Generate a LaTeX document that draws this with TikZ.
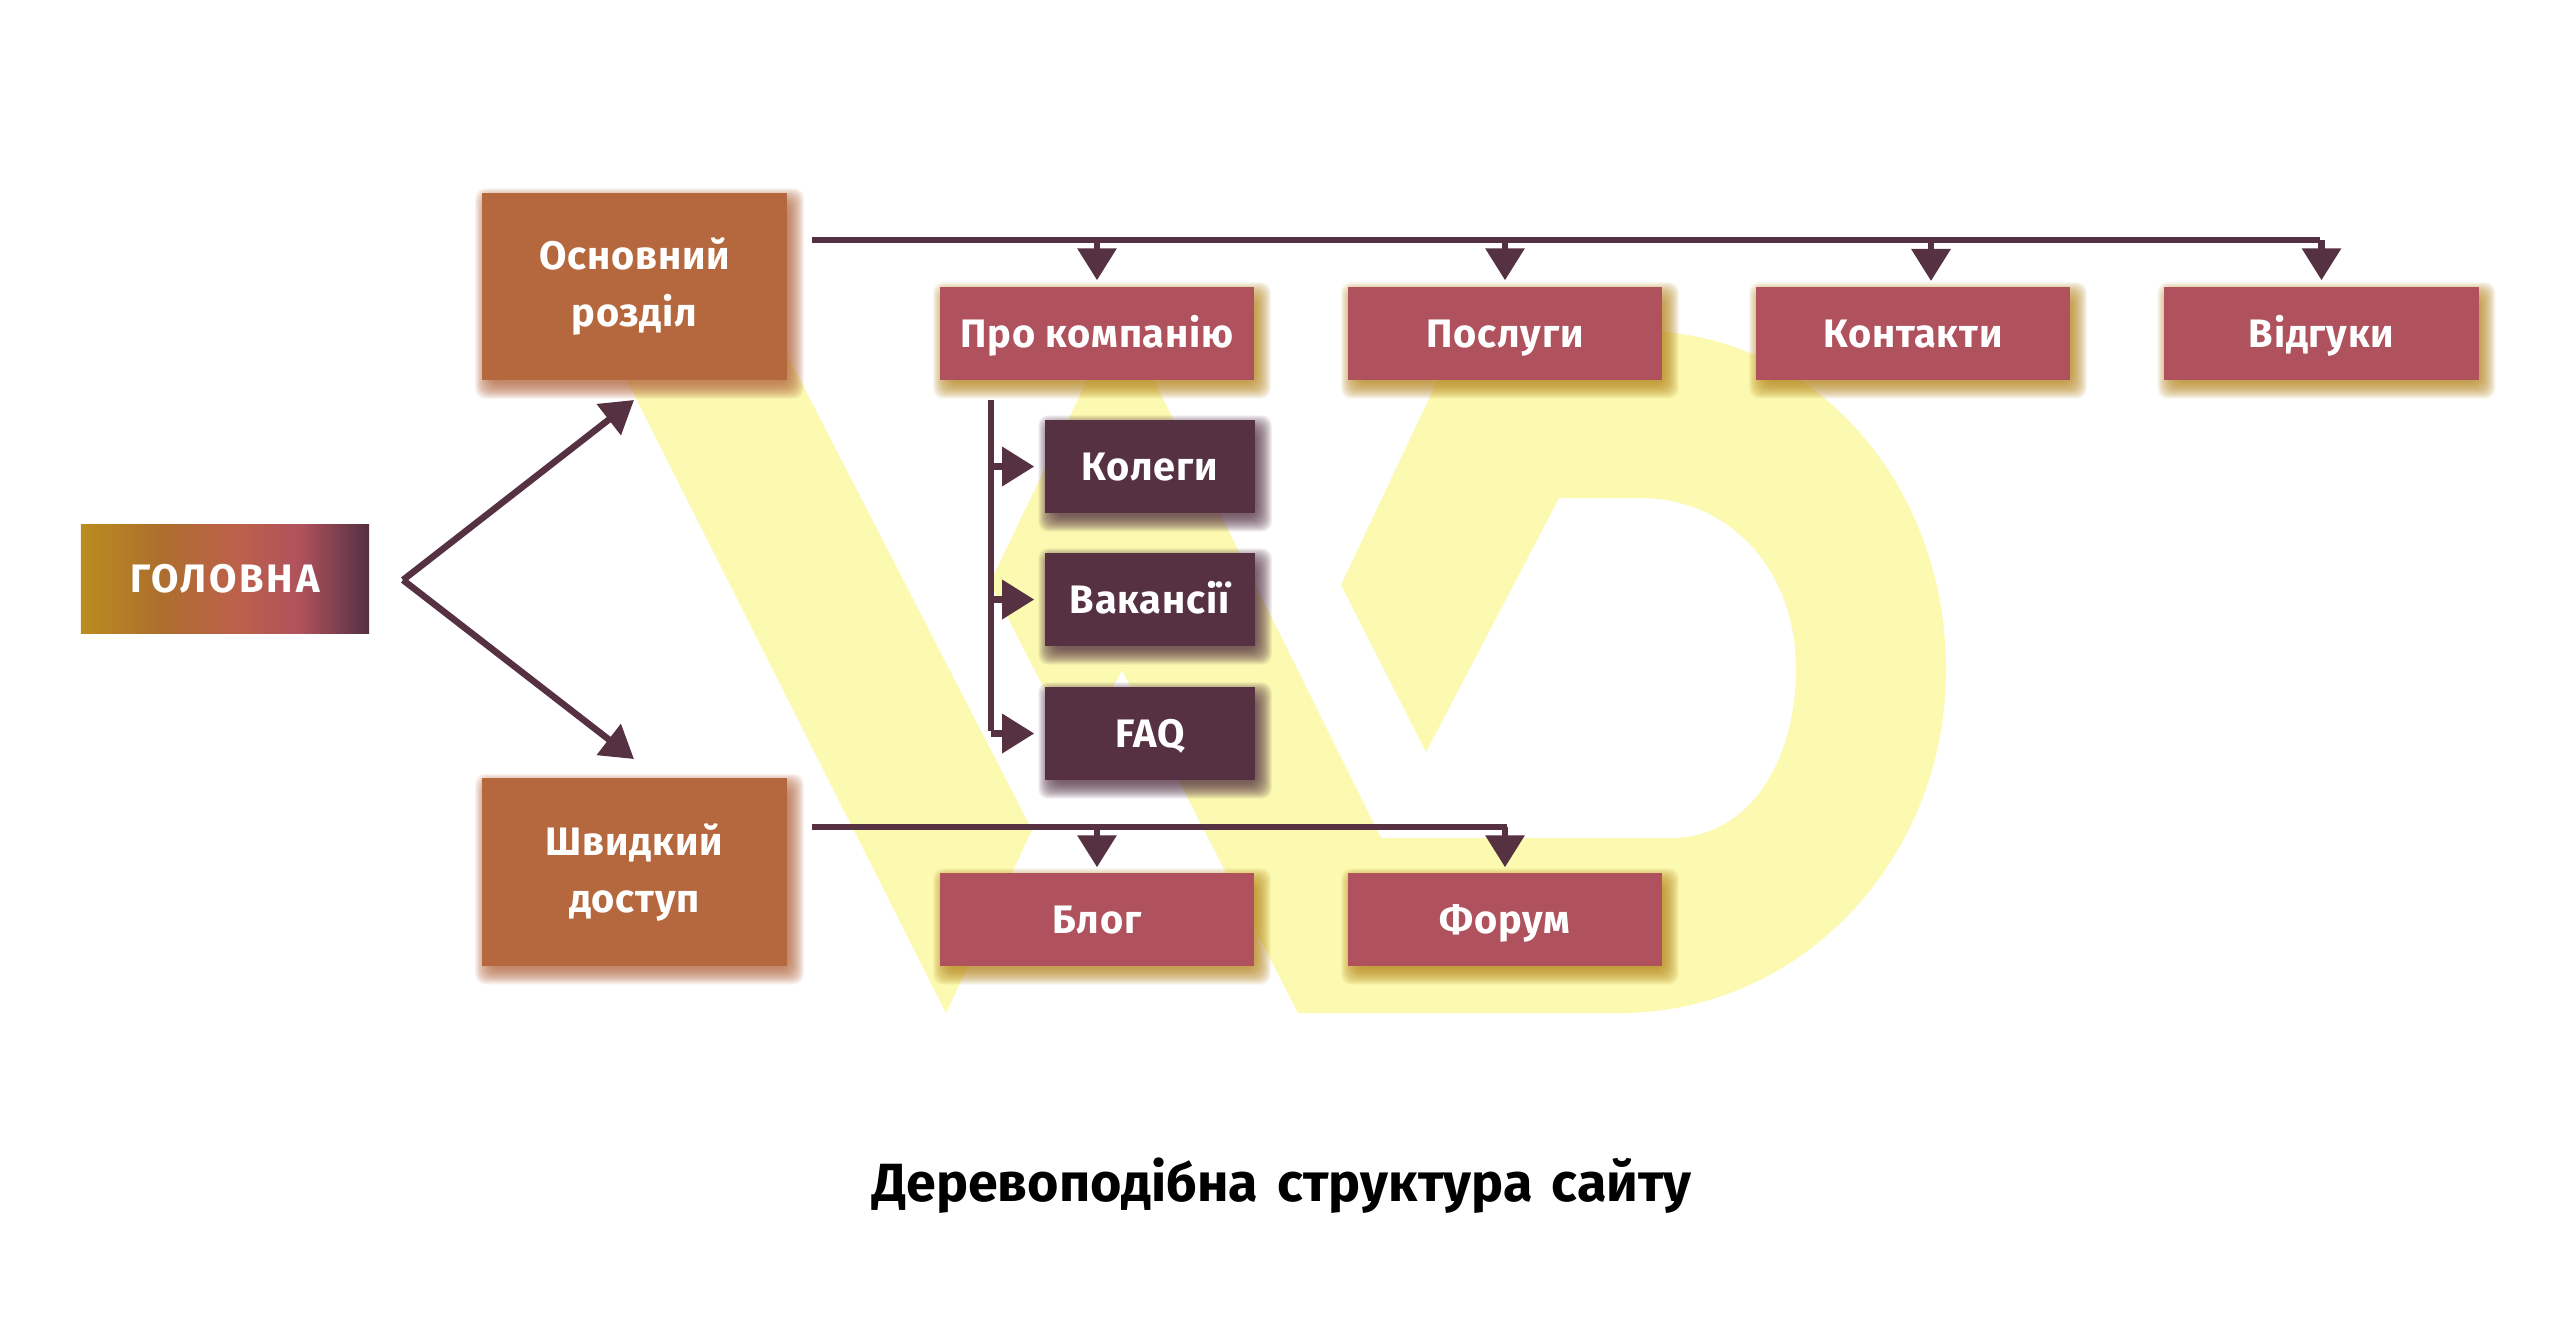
\documentclass[tikz,border=0pt]{standalone}
\usepackage{fontspec}
\setmainfont[LetterSpace=2]{Fira Sans}
\usetikzlibrary{arrows.meta,backgrounds}
\definecolor{wine}{HTML}{553142}
\definecolor{rose}{HTML}{AF525D}
\definecolor{clay}{HTML}{B5673E}
\definecolor{wash}{HTML}{FCFAB0}
\definecolor{amber}{HTML}{B8861E}
\pgfdeclarehorizontalshading{headfill}{100bp}{
  rgb(0bp)=(0.73,0.55,0.12); rgb(25bp)=(0.73,0.55,0.12);
  rgb(39bp)=(0.68,0.43,0.18); rgb(51.5bp)=(0.74,0.38,0.29);
  rgb(63bp)=(0.69,0.32,0.36); rgb(75bp)=(0.33,0.19,0.26); rgb(100bp)=(0.33,0.19,0.26)}
\newcommand{\softshadow}[2]{%
  \foreach \spread in {11,10,...,-5}
    \fill[#2,opacity=0.08,rounded corners=0.1cm] ([xshift=0.05cm-\spread*0.01cm,yshift=-0.07cm-\spread*0.01cm]#1.south west)
      rectangle ([xshift=0.05cm+\spread*0.01cm,yshift=-0.07cm+\spread*0.01cm]#1.north east);}
\tikzset{
  boxlabel/.style={text=white,font=\fontsize{11.3}{16.2}\selectfont\bfseries,align=center,inner sep=0pt},
  sectionbox/.style={boxlabel,fill=clay,minimum width=3.05cm,minimum height=1.87cm},
  pagebox/.style={boxlabel,fill=rose,minimum width=3.14cm,minimum height=0.93cm,text height=0.4cm,text depth=0.12cm},
  subbox/.style={boxlabel,fill=wine,minimum width=2.1cm,minimum height=0.93cm,text height=0.4cm,text depth=0.12cm},
  link/.style={wine,line width=0.065cm},
  arrowlink/.style={link,-{Triangle[width=0.38cm,length=0.32cm]}},
}
\begin{document}
\begin{tikzpicture}[x=0.01cm,y=-0.01cm]
  \useasboundingbox (0,0) rectangle (2560,1333);
  % boxes
  \node[boxlabel,shading=headfill,minimum width=2.88cm,minimum height=1.08cm] (home) at (225,579) {\addfontfeature{LetterSpace=7}ГОЛОВНА};
  \node[sectionbox] (mainsec) at (634.5,286.5) {Основний\\розділ};
  \node[sectionbox] (quicksec) at (634.5,872) {Швидкий\\доступ};
  \node[pagebox] (about) at (1097,333.5) {Про компанію};
  \node[pagebox] (services) at (1505,333.5) {Послуги};
  \node[pagebox] (contacts) at (1913,333.5) {Контакти};
  \node[pagebox] (reviews) at (2321.5,333.5) {Відгуки};
  \node[subbox] (team) at (1150,466.5) {Колеги};
  \node[subbox] (jobs) at (1150,599.5) {Вакансії};
  \node[subbox] (faq) at (1150,733.5) {FAQ};
  \node[pagebox] (blog) at (1097,919.5) {Блог};
  \node[pagebox] (forum) at (1505,919.5) {Форум};
  \node[text=black,inner sep=0pt,font=\fontsize{15.3}{18}\selectfont\bfseries] (title) at (1282,1186)
    {\addfontfeature{LetterSpace=0.1}Деревоподібна\hspace{1.8pt} структура\hspace{1.8pt} сайту};
  % pale letters and soft shadows behind the boxes
  \begin{scope}[on background layer]
    \fill[white] (0,0) rectangle (2560,1333);
    \fill[wash] (946,1013) -- (604,335) -- (777,335) -- (1032,830) -- cycle;
    \fill[wash] (1120,312) -- (990,583) -- (1078,755) -- (1122,670) -- (1298,1013) -- (1620,1013)
      .. controls (1800,1013) and (1946,860) .. (1946,670)
      .. controls (1946,480) and (1810,331) .. (1640,331) -- (1461,331) -- (1341,585) -- (1426,752)
      -- (1559,498) -- (1640,498) .. controls (1730,498) and (1796,570) .. (1796,669)
      .. controls (1796,760) and (1750,838) .. (1671,838) -- (1381,838) -- cycle;
    \foreach \boxname/\shadecol in {mainsec/clay,quicksec/clay,about/amber,services/amber,
      contacts/amber,reviews/amber,blog/amber,forum/amber,team/wine,jobs/wine,faq/wine}
      \softshadow{\boxname}{\shadecol};
  \end{scope}
  % free ends of the lines
  \coordinate (fork) at (403,580);
  \coordinate (topstart) at (812,240);
  \coordinate (topend) at (2320,240);
  \coordinate (quickstart) at (812,827);
  \coordinate (quickend) at (1507,827);
  \coordinate (subtop) at (991,400);
  \coordinate (subbottom) at (991,731);
  \coordinate (contactdrop) at (1931,240);
  % links
  \draw[arrowlink] (fork) -- (634,400);
  \draw[arrowlink] (fork) -- (634,759);
  \draw[link] (topstart) -- (topend);
  \draw[link] (quickstart) -- (quickend);
  \draw[link] (subtop) -- (subbottom);
  \foreach \pagename in {about,services,reviews}
    \draw[arrowlink,shorten >=0.06cm] (topstart -| \pagename.north) -- (\pagename.north);
  \draw[arrowlink] (contactdrop) -- (contactdrop |- 0,281);
  \foreach \pagename in {blog,forum}
    \draw[arrowlink,shorten >=0.05cm] (quickstart -| \pagename.north) -- (\pagename.north);
  \foreach \pagename in {team,jobs,faq}
    \draw[arrowlink,shorten >=0.1cm] (subtop |- \pagename.west) -- (\pagename.west);
\end{tikzpicture}
\end{document}
